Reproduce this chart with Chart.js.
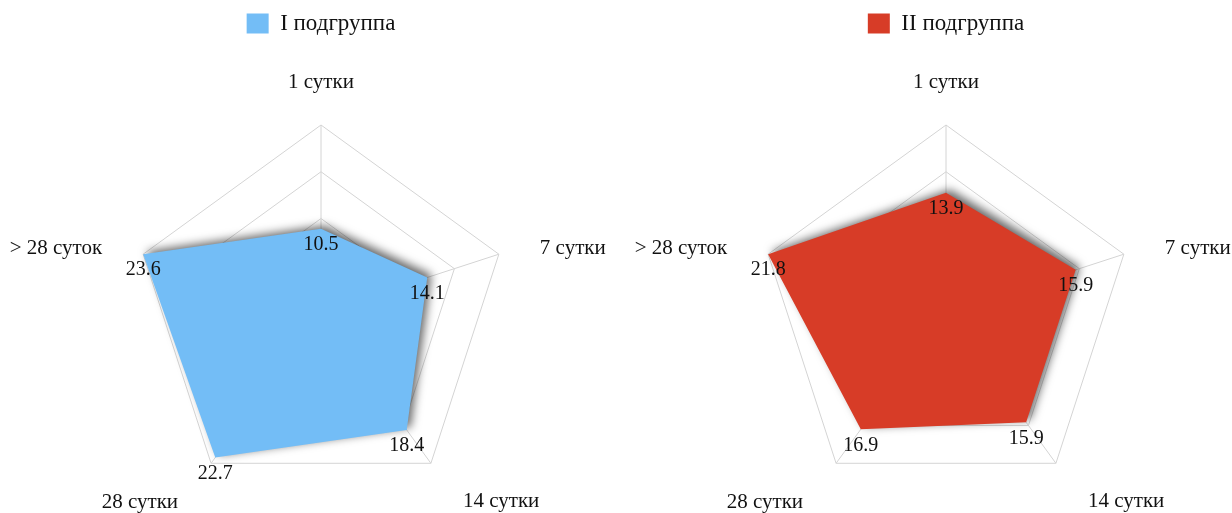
<!DOCTYPE html>
<html>
<head>
<meta charset="utf-8">
<script src="https://cdn.jsdelivr.net/npm/chart.js@4"></script>
<style>
  html, body { margin: 0; padding: 0; background: #fff; overflow: hidden; }
  .box { position: absolute; top: 0; width: 720px; height: 579px; }
  #leftBox { left: -39px; }
  #rightBox { left: 586px; }
</style>
</head>
<body>
<div class="box" id="leftBox"><canvas id="chartLeft"></canvas></div>
<div class="box" id="rightBox"><canvas id="chartRight"></canvas></div>
<script>
// Categories and series
const periods = ["1 сутки", "7 сутки", "14 сутки", "28 сутки", "> 28 суток"];
const group1 = [10.5, 14.1, 18.4, 22.7, 23.6];
const group2 = [13.9, 15.9, 15.9, 16.9, 21.8];

const serif = "'Liberation Serif', 'Times New Roman', serif";

// where each category name sits relative to its outer corner
const labelDx = [0, 41, 32, -33, -41];
const labelDy = [-43, -6, 38, 39, -6];

// shadow behind the filled area
const shadowPlugin = {
  id: "areaShadow",
  beforeDatasetsDraw(chart) {
    const c = chart.ctx;
    c.save();
    c.shadowColor = "rgba(0,0,0,0.6)";
    c.shadowBlur = 10;
    c.shadowOffsetX = 4;
    c.shadowOffsetY = -3;
  },
  afterDatasetsDraw(chart) {
    chart.ctx.restore();
  }
};

// value labels under points + category names around the web
const textPlugin = {
  id: "texts",
  afterDatasetsDraw(chart) {
    const c = chart.ctx;
    const r = chart.scales.r;
    c.save();
    c.fillStyle = "#111";
    c.textBaseline = "middle";

    c.font = "20px " + serif;
    c.textAlign = "center";
    chart.data.datasets.forEach((ds, i) => {
      chart.getDatasetMeta(i).data.forEach((pt, j) => {
        c.fillText(ds.data[j].toFixed(1), pt.x, pt.y + 16);
      });
    });

    c.font = "21px " + serif;
    chart.data.labels.forEach((lab, i) => {
      const p = r.getPointPosition(i, r.drawingArea);
      const dx = labelDx[i];
      c.textAlign = dx === 0 ? "center" : (dx > 0 ? "left" : "right");
      c.fillText(lab, p.x + dx, p.y + labelDy[i]);
    });
    c.restore();
  }
};

function makeRadar(id, label, values, color) {
  const ctx = document.getElementById(id).getContext("2d");
  return new Chart(ctx, {
    type: "radar",
    data: {
      labels: periods,
      datasets: [{
        label: label,
        data: values,
        backgroundColor: color,
        borderColor: color,
        borderWidth: 0,
        fill: true,
        pointRadius: 0,
        pointHoverRadius: 0
      }]
    },
    options: {
      responsive: true,
      maintainAspectRatio: false,
      animation: false,
      layout: { padding: { left: 173, right: 173 } },
      plugins: {
        legend: {
          position: "top",
          labels: {
            boxWidth: 22,
            boxHeight: 20,
            padding: 12,
            color: "#111",
            font: { family: serif, size: 23 }
          }
        },
        tooltip: { enabled: false }
      },
      scales: {
        r: {
          min: 0,
          max: Math.max(...values),
          ticks: { display: false, count: 5 },
          grid: { color: "#d4d4d4", lineWidth: 1 },
          angleLines: { color: "#d4d4d4", lineWidth: 1 },
          pointLabels: { display: false }
        }
      }
    },
    plugins: [shadowPlugin, textPlugin]
  });
}

makeRadar("chartLeft", "I подгруппа", group1, "#73bdf6");
makeRadar("chartRight", "II подгруппа", group2, "#d73c27");
</script>
</body>
</html>
